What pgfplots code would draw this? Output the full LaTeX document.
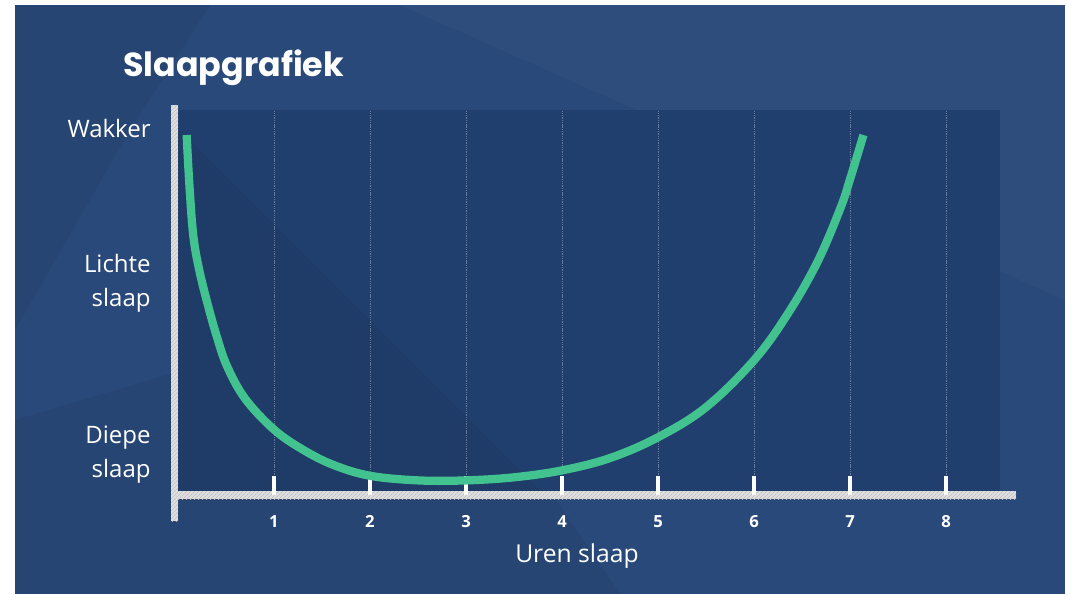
\documentclass[border=0pt]{standalone}
\usepackage{pgfplots}
\pgfplotsset{compat=1.18}
\usepackage{fontspec}
\setmainfont{Open Sans}
\newfontfamily\titlefont{Poppins}
\usetikzlibrary{patterns}
\definecolor{bg}{HTML}{29497A}
\definecolor{plotbg}{HTML}{213F6E}
\definecolor{curve}{HTML}{42C28E}
\definecolor{barfill}{HTML}{E0E0E0}
\begin{document}
\begin{tikzpicture}[x=0.75pt,y=-0.75pt]
\useasboundingbox (0,0) rectangle (1066,594);
\fill[white] (0,0) rectangle (1066,594);
\fill[bg] (15,5) rectangle (1065,594);
% subtle background shading
\fill[black,opacity=0.05] (15,5) -- (210,5) -- (130,130) -- (15,330) -- cycle;
\fill[black,opacity=0.05] (15,594) -- (620,594) -- (420,300) -- (15,420) -- cycle;
\fill[white,opacity=0.025] (400,5) -- (1065,5) -- (1065,300) -- cycle;
% plot region
\fill[plotbg] (178,110) rectangle (1000,495);
\fill[black,opacity=0.06] (178,128) -- (545,495) -- (178,495) -- cycle;
% axis bars
\fill[barfill] (171,105) rectangle (178,521);
\fill[pattern=north east lines, pattern color=gray!50] (171,105) rectangle (178,521);
\fill[barfill] (171,491) rectangle (1016,499);
\fill[pattern=north east lines, pattern color=gray!50] (171,491) rectangle (1016,499);
% title
\node[anchor=west, text=white, inner sep=0pt, font=\titlefont\bfseries\fontsize{25}{25}\selectfont] at (123,68) {Slaapgrafiek};
\node[text=white, inner sep=0pt, font=\fontsize{18.5}{18.5}\selectfont] at (577,556) {Uren slaap};
\begin{axis}[
  at={(133.5pt,-371.25pt)}, anchor=south west,
  scale only axis, width=616.5pt, height=288.75pt,
  xmin=0, xmax=8.5625, ymin=0, ymax=1,
  axis line style={draw=none},
  xtick={1,2,3,4,5,6,7,8}, xtick pos=lower,
  tick align=inside,
  major tick length=14pt,
  xtick style={white, line width=2.4pt},
  xmajorgrids,
  grid style={white, opacity=0.3, line width=0.5pt, dash pattern=on 1pt off 0.7pt},
  xticklabel style={text=white, font=\bfseries\fontsize{12.5}{12.5}\selectfont, yshift=-12pt},
  /pgf/number format/assume math mode=true,
  ytick={0.104,0.551,0.953}, ytick pos=left,
  yticklabels={{Diepe\\slaap},{Lichte\\slaap},{Wakker}},
  ytick style={draw=none},
  yticklabel style={align=right, text=white, font=\fontsize{18}{25.5}\selectfont, xshift=-17pt},
]
\addplot[curve, line width=6.2pt, smooth, tension=0.6, line cap=butt] table {
x y
0.09 0.935
0.12 0.800
0.16 0.672
0.22 0.586
0.30 0.504
0.40 0.415
0.51 0.335
0.70 0.250
1.00 0.170
1.30 0.118
1.62 0.078
2.00 0.050
2.50 0.038
3.00 0.038
3.50 0.046
4.00 0.064
4.50 0.096
5.00 0.150
5.50 0.228
6.00 0.350
6.35 0.470
6.66 0.605
6.90 0.745
7.00 0.820
7.14 0.935
};
\end{axis}
\end{tikzpicture}
\end{document}
